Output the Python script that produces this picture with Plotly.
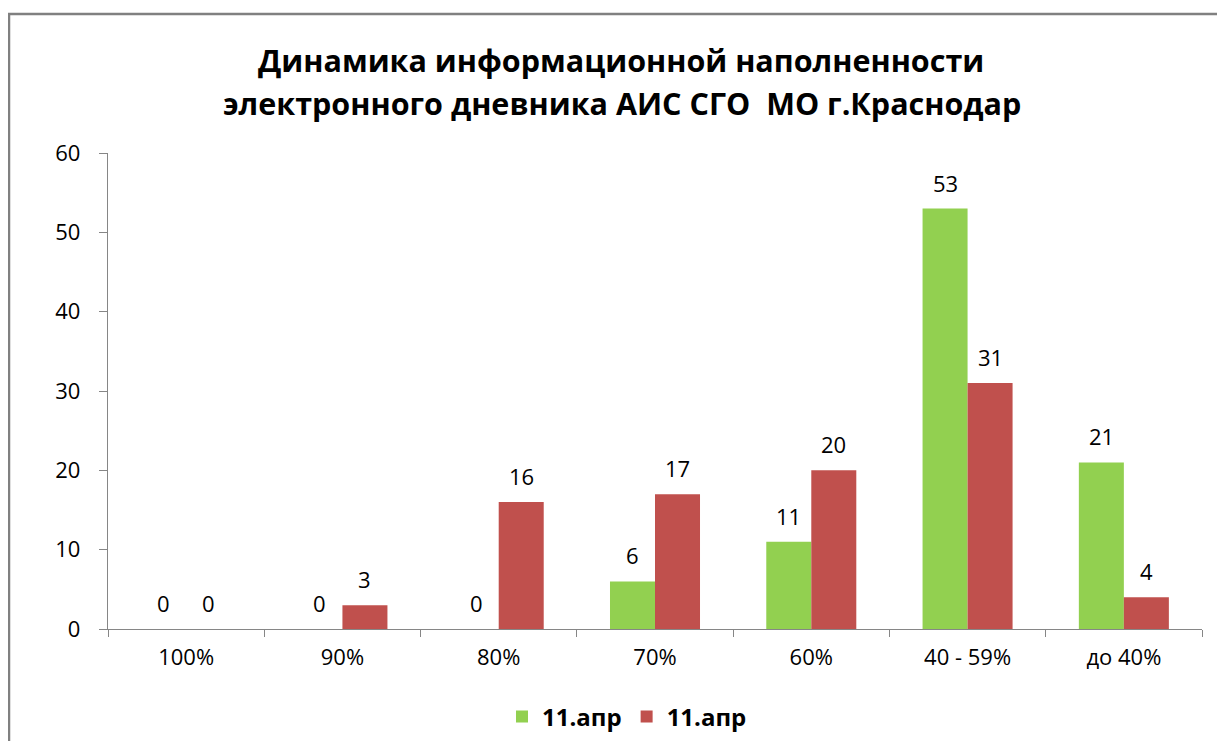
import plotly.graph_objects as go

categories = ["100%", "90%", "80%", "70%", "60%", "40 - 59%", "до 40%"]
series1_name = "11.апр"
series1_values = [0, 0, 0, 6, 11, 53, 21]
series2_name = "11.апр"
series2_values = [0, 3, 16, 17, 20, 31, 4]
y_ticks = [0, 10, 20, 30, 40, 50, 60]
title_lines = ["Динамика информационной наполненности",
               "электронного дневника АИС СГО  МО г.Краснодар"]

FONT = "Open Sans, Noto Sans, DejaVu Sans, sans-serif"
GREEN = "#92D050"
RED = "#C0504D"
AXIS = "#868686"

# page has an 8px body margin, so the figure is shifted by 8px
W, H = 1209, 733
L, R, T, B = 100, 15, 145, 112
pw, ph = W - L - R, H - T - B
BARGAP = 0.424
bar_px = pw / len(categories) * (1 - BARGAP) / 2

fig = go.Figure()
fig.add_trace(go.Bar(
    x=categories, y=series1_values, name=series1_name,
    marker=dict(color=GREEN, line=dict(width=0)),
))
fig.add_trace(go.Bar(
    x=categories, y=series2_values, name=series2_name,
    marker=dict(color=RED, line=dict(width=0)),
))

annotations = []
for vals, sign in ((series1_values, -1), (series2_values, 1)):
    for c, v in zip(categories, vals):
        annotations.append(dict(
            x=c, y=v, xref="x", yref="y", text=str(v), showarrow=False,
            xshift=sign * bar_px / 2, yshift=9, yanchor="bottom", xanchor="center",
            font=dict(size=22, family=FONT, color="#000000"),
        ))

def px_x(x):
    return (x - L) / pw

def px_y(y):
    return (H - B - y) / ph

for line, (cx, cy) in zip(title_lines, ((613, 52), (614, 95))):
    annotations.append(dict(
        x=px_x(cx), y=px_y(cy), xref="paper", yref="paper",
        text="<b>" + line + "</b>", showarrow=False,
        xanchor="center", yanchor="middle",
        font=dict(size=30.5, family=FONT, color="#000000"),
    ))

fig.update_layout(
    width=W, height=H,
    margin=dict(l=L, r=R, t=T, b=B, autoexpand=False),
    paper_bgcolor="white", plot_bgcolor="white",
    barmode="group", bargap=BARGAP, bargroupgap=0,
    font=dict(family=FONT, size=22, color="#000000"),
    showlegend=True,
    legend=dict(
        orientation="h", xref="container", yref="container",
        x=619 / W, xanchor="center", y=1 - 709 / H, yanchor="middle",
        font=dict(size=24, family=FONT, color="#000000", weight="bold"),
        traceorder="normal", itemwidth=30,
    ),
    annotations=annotations,
)
fig.update_xaxes(
    showline=True, linecolor=AXIS, linewidth=1.3, automargin=False,
    ticks="outside", tickson="boundaries", ticklen=7, tickcolor=AXIS,
    showgrid=False, tickfont=dict(size=22, family=FONT), ticklabelstandoff=8,
)
fig.update_yaxes(
    range=[0, 60], tickvals=y_ticks, showline=True, linecolor=AXIS, linewidth=1.3,
    ticks="outside", ticklen=8, tickcolor=AXIS, showgrid=False, zeroline=False,
    automargin=False, tickfont=dict(size=22, family=FONT), ticklabelstandoff=14,
)

# outer chart border (right and bottom edges lie outside the view)
fig.add_shape(
    type="rect", xref="paper", yref="paper",
    x0=px_x(1), x1=px_x(W + 30), y0=px_y(H + 30), y1=px_y(6),
    line=dict(color="#808080", width=2.5), fillcolor="rgba(0,0,0,0)", layer="below",
)

fig.write_html("out.html")
